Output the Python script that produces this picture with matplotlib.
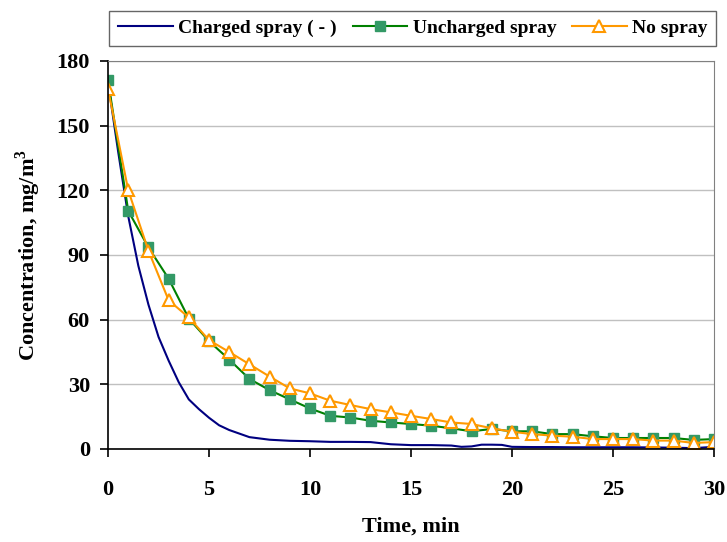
import matplotlib.pyplot as plt
import numpy as np

plt.rcParams['font.family'] = ['Liberation Serif', 'DejaVu Serif']
plt.rcParams['font.weight'] = 'bold'
plt.rcParams['mathtext.fontset'] = 'custom'
plt.rcParams['mathtext.rm'] = 'Liberation Serif'
plt.rcParams['mathtext.bf'] = 'Liberation Serif:bold'

# charged spray (no markers, finer sampling at the start)
t_charged = [0, 0.5, 1, 1.5, 2, 2.5, 3, 3.5, 4, 4.5, 5, 5.5, 6, 7, 8, 9, 10, 11, 12, 13,
             14, 15, 16, 17, 17.5, 18, 18.5, 19, 19.5, 20, 21, 22, 23, 24, 25, 26, 27, 28, 29, 30]
c_charged = [170, 138, 108, 85, 67, 52, 41, 31, 23, 18.5, 14.5, 11, 8.8, 5.5, 4.3, 3.8, 3.6, 3.3, 3.3, 3.2,
             2.2, 1.8, 1.8, 1.6, 1.0, 1.2, 2.0, 2.0, 1.9, 1.0, 0.9, 0.9, 0.8, 0.8, 0.8, 0.8, 0.7, 0.6, 0.4, 1.0]

t_min = list(range(0, 31))
c_uncharged = [171, 110.5, 93.5, 79, 60.5, 50, 41.5, 32.5, 27.3, 23, 18.8, 15.4, 14.6, 13.1, 12.3, 11.6,
               10.8, 9.6, 8.2, 9.3, 8.2, 8.2, 6.9, 6.9, 5.9, 5.1, 5.1, 5.1, 5.1, 4.2, 4.6]
c_nospray = [167, 120, 92, 69, 61, 50.5, 45, 39.3, 33.6, 28.1, 25.8, 22.4, 20.4, 18.5, 17, 15.4,
             13.9, 12.3, 11.6, 9.6, 8.0, 6.9, 6.2, 5.7, 4.6, 4.6, 4.6, 3.9, 3.9, 2.8, 3.2]

fig = plt.figure(figsize=(7.27, 5.42), dpi=100)
ax = fig.add_axes([0.1486, 0.1716, 0.8334, 0.7159])

ax.plot(t_charged, c_charged, color='#000080', lw=1.5, label='Charged spray ( - )')
ax.plot(t_min, c_uncharged, color='#008000', lw=1.5, marker='s', ms=7,
        mfc='#339966', mec='#339966', label='Uncharged spray')
ax.plot(t_min, c_nospray, color='#FF9900', lw=1.5, marker='^', ms=9,
        mfc='white', mec='#FF9900', mew=1.5, label='No spray')

ax.set_xlim(0, 30)
ax.set_ylim(0, 180)
ax.set_xticks(np.arange(0, 31, 5))
ax.set_yticks(np.arange(0, 181, 30))
ax.yaxis.grid(True, color='#c0c0c0', lw=1)
ax.set_axisbelow(True)
ax.tick_params(direction='out', length=6, width=1.2, labelsize=16)
ax.tick_params(axis='x', pad=16)
ax.tick_params(axis='y', pad=7)
for lab in ax.get_xticklabels() + ax.get_yticklabels():
    lab.set_fontweight('bold')
ax.spines['left'].set_linewidth(1.2)
ax.spines['bottom'].set_linewidth(1.2)
ax.spines['right'].set_color('#808080')
ax.spines['top'].set_color('#808080')

ax.set_xlabel('Time, min', fontsize=16, fontweight='bold', labelpad=12)
ax.set_ylabel(r'Concentration, mg/m$^{\mathbf{3}}$', fontsize=16, fontweight='bold', labelpad=10)

leg = fig.legend(loc='center', bbox_to_anchor=(0.568, 0.948),
                 ncol=3, frameon=True, fancybox=False, edgecolor='#404040',
                 handlelength=2.8, handletextpad=0.3, columnspacing=0.8, borderpad=0.45,
                 prop={'weight': 'bold', 'size': 14})
leg.get_frame().set_linewidth(1.0)

fig.savefig('out.png', dpi=100)
